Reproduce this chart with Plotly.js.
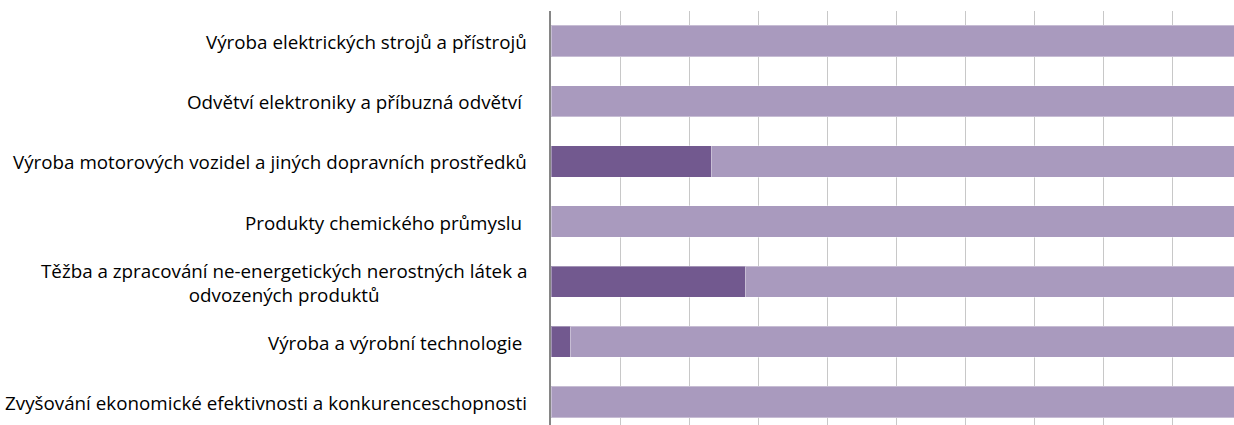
<!DOCTYPE html>
<html>
<head>
<meta charset="utf-8">
<script src="https://cdn.plot.ly/plotly-3.0.1.min.js"></script>
<style>html,body{margin:0;padding:0;background:#fff;}</style>
</head>
<body>
<div id="chart" style="width:1234px;height:425px;"></div>
<script>
const categories = [
  "Výroba elektrických strojů a přístrojů",
  "Odvětví elektroniky a příbuzná odvětví\u00a0",
  "Výroba motorových vozidel a jiných dopravních prostředků",
  "Produkty chemického průmyslu\u00a0",
  "Těžba a zpracování ne-energetických nerostných látek a<br>odvozených produktů",
  "Výroba a výrobní technologie\u00a0",
  "Zvyšování ekonomické efektivnosti a konkurenceschopnosti"
];
const darkValues = [0, 0, 0.232, 0, 0.281, 0.028, 0];
const lightValues = [1, 1, 0.768, 1, 0.719, 0.972, 1];

const idx = categories.map((c, i) => i);

const traces = [
  {type: 'bar', orientation: 'h', y: idx, x: darkValues,
   marker: {color: '#72598F', line: {color: 'rgba(255,255,255,0.35)', width: 1}},
   hoverinfo: 'skip'},
  {type: 'bar', orientation: 'h', y: idx, x: lightValues,
   marker: {color: '#A99ABE', line: {color: 'rgba(255,255,255,0.35)', width: 1}},
   hoverinfo: 'skip'}
];

const annotations = categories.map((c, i) => ({
  text: c, x: 0, xref: 'paper', y: i, yref: 'y',
  xanchor: 'right', yanchor: 'middle', xshift: -22, yshift: -1, align: 'center',
  showarrow: false,
  font: {family: '"Open Sans", sans-serif', size: 18.8, color: '#000'}
}));

const layout = {
  width: 1234, height: 425,
  margin: {l: 551, r: 0, t: 11, b: 0, pad: 0},
  barmode: 'stack', bargap: 0.48,
  showlegend: false,
  paper_bgcolor: '#fff', plot_bgcolor: '#fff',
  xaxis: {range: [0, 0.989], dtick: 0.1, tick0: 0, showgrid: true,
          gridcolor: '#C8C8C8', gridwidth: 1, showticklabels: false,
          zeroline: false, showline: false, ticks: ''},
  yaxis: {range: [6.383, -0.5], showticklabels: false, showgrid: false,
          zeroline: false, showline: true, linecolor: '#868686', linewidth: 2, ticks: ''},
  annotations: annotations
};

Plotly.newPlot('chart', traces, layout, {displayModeBar: false, staticPlot: true});
</script>
</body>
</html>
